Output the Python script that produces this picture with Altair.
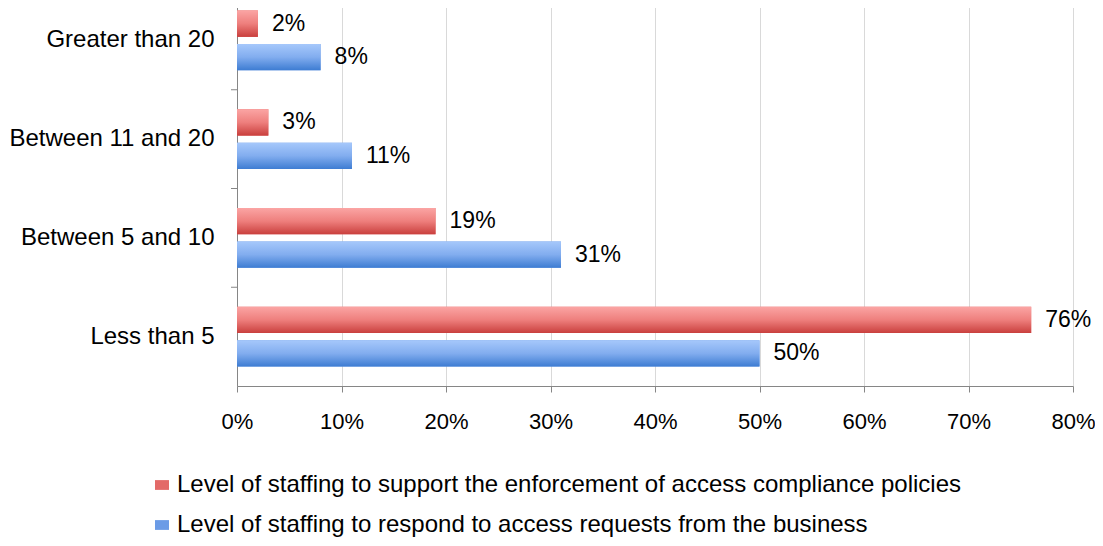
import altair as alt
import pandas as pd

categories = ["Greater than 20", "Between 11 and 20", "Between 5 and 10", "Less than 5"]
series = [
    "Level of staffing to support the enforcement of access compliance policies",
    "Level of staffing to respond to access requests from the business",
]
compliance = [2, 3, 19, 76]
respond = [8, 11, 31, 50]
x_ticks = [0, 10, 20, 30, 40, 50, 60, 70, 80]

rows = []
for c, v in zip(categories, compliance):
    rows.append({"category": c, "series": series[0], "value": v})
for c, v in zip(categories, respond):
    rows.append({"category": c, "series": series[1], "value": v})
df = pd.DataFrame(rows)
cat_df = pd.DataFrame({"category": categories})

FONT = "Liberation Sans"
FS = 23

y_axis = alt.Axis(
    title=None, ticks=False, domainColor="#868686", labelPadding=23,
    labelFontSize=24, labelFont=FONT, labelColor="black", grid=False,
    labelLimit=0,
)
y_scale = alt.Scale(domain=categories, paddingInner=0, paddingOuter=0)
y_enc = alt.Y("category:N", sort=categories, scale=y_scale, axis=y_axis)
yoff = alt.YOffset(
    "series:N", sort=series,
    scale=alt.Scale(domain=series, paddingInner=0.21, paddingOuter=0.58),
)
x_enc = alt.X(
    "value:Q",
    scale=alt.Scale(domain=[0, 80], nice=False),
    axis=alt.Axis(
        values=x_ticks, labelExpr="datum.value + '%'", title=None, grid=True,
        gridColor="#d9d9d9", domainColor="#868686", tickColor="#868686",
        tickSize=6, labelPadding=19, labelFontSize=22, labelFont=FONT,
        labelColor="black", labelFlush=False, labelOverlap=False,
    ),
)

base = alt.Chart(df)

legend_layer = base.mark_bar().encode(
    x=x_enc, y=y_enc, yOffset=yoff,
    color=alt.Color(
        "series:N",
        scale=alt.Scale(domain=series, range=["#e36a68", "#6b9be6"]),
        legend=alt.Legend(
            orient="none", legendX=-87, legendY=482, direction="vertical",
            title=None, labelFontSize=24, labelFont=FONT, labelColor="black",
            symbolType="M-1,-0.7H1V0.7H-1Z", symbolSize=196, rowPadding=16,
            labelOffset=3, padding=0, labelLimit=0, symbolStrokeWidth=0,
        ),
    ),
)

red_grad = alt.Gradient(
    gradient="linear", x1=0, x2=0, y1=0, y2=1,
    stops=[
        alt.GradientStop(color="#fba5a4", offset=0),
        alt.GradientStop(color="#ee7f7d", offset=0.5),
        alt.GradientStop(color="#c93f3d", offset=1),
    ],
)
blue_grad = alt.Gradient(
    gradient="linear", x1=0, x2=0, y1=0, y2=1,
    stops=[
        alt.GradientStop(color="#a6c8fb", offset=0),
        alt.GradientStop(color="#82adef", offset=0.5),
        alt.GradientStop(color="#3d7cd2", offset=1),
    ],
)

red_layer = base.transform_filter(alt.datum.series == series[0]).mark_bar(
    fill=red_grad
).encode(x=x_enc, y=y_enc, yOffset=yoff)
blue_layer = base.transform_filter(alt.datum.series == series[1]).mark_bar(
    fill=blue_grad
).encode(x=x_enc, y=y_enc, yOffset=yoff)

text_layer = base.transform_calculate(
    label="datum.value + '%'"
).mark_text(
    align="left", baseline="middle", dx=14, fontSize=FS, font=FONT, color="black"
).encode(x=x_enc, y=y_enc, yOffset=yoff, text=alt.Text("label:N"))

tick_layer = alt.Chart(cat_df).mark_rule(color="#868686").encode(
    y=alt.Y("category:N", sort=categories, scale=y_scale, axis=y_axis, bandPosition=0),
    x=alt.value(-6), x2=alt.value(0),
)

chart = alt.layer(
    legend_layer, red_layer, blue_layer, text_layer, tick_layer
).properties(
    width=836, height=395,
    padding={"left": 229, "top": -17, "right": 22, "bottom": 152},
    autosize=alt.AutoSizeParams(type="none"),
).configure_view(stroke=None)

chart.save("out.html", embed_options={"renderer": "svg", "actions": False})
